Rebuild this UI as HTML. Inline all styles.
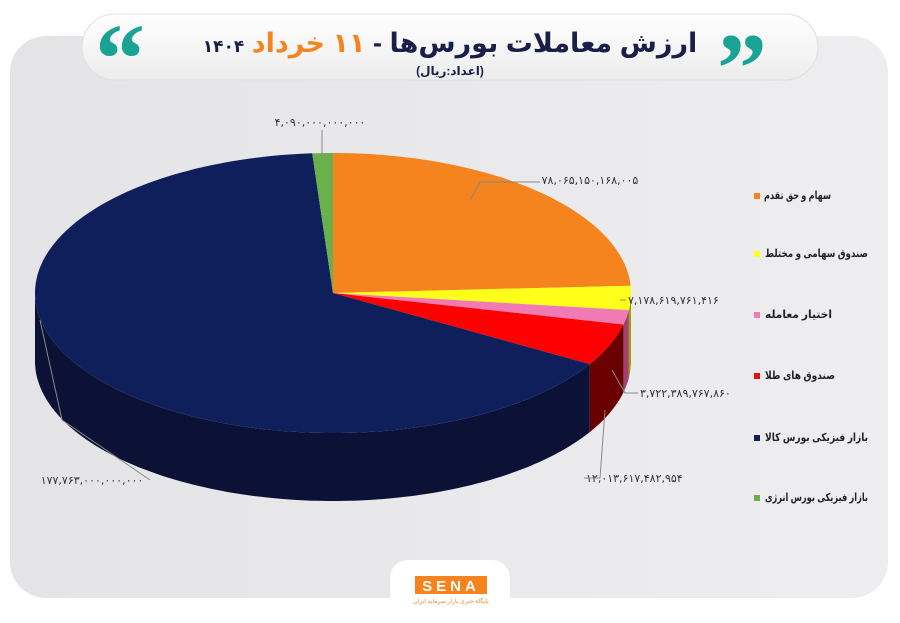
<!DOCTYPE html>
<html><head><meta charset="utf-8"><style>
body{margin:0;width:900px;height:623px;background:#fff;overflow:hidden;font-family:"Liberation Sans","DejaVu Sans",sans-serif}
svg{position:absolute;left:0;top:0}
</style></head><body>
<svg width="900" height="623" viewBox="0 0 900 623" xmlns="http://www.w3.org/2000/svg">
<defs>
<linearGradient id="bg" x1="0" y1="0" x2="1" y2="0"><stop offset="0" stop-color="#e4e4e6"/><stop offset="1" stop-color="#eeeef0"/></linearGradient>
<linearGradient id="pill" x1="0" y1="0" x2="0" y2="1"><stop offset="0" stop-color="#ffffff"/><stop offset="1" stop-color="#ececec"/></linearGradient>
</defs>
<rect x="10" y="36" width="878" height="562" rx="36" fill="url(#bg)"/>
<rect x="82" y="14" width="736" height="66" rx="33" fill="url(#pill)" stroke="#e0e0e0"/>
<text x="120" y="92" font-size="100" font-weight="bold" fill="#1aa394" text-anchor="middle" font-family="Liberation Serif,serif">“</text>
<text x="742" y="102" font-size="100" font-weight="bold" fill="#1aa394" text-anchor="middle" font-family="Liberation Serif,serif">”</text>
<text x="450" y="52" font-size="27" font-weight="bold" text-anchor="middle" direction="rtl" font-family="'Liberation Sans','DejaVu Sans',sans-serif" fill="#1a1f4a">ارزش معاملات بورس‌ها - <tspan fill="#f5841f">۱۱ خرداد</tspan> <tspan font-size="17">۱۴۰۴</tspan></text>
<text x="450" y="75" font-size="12" font-weight="bold" text-anchor="middle" fill="#1a1f4a" direction="rtl">(اعداد:ریال)</text>
<g id="pie"></g>
<g font-size="11" fill="#333" font-family="'DejaVu Sans',sans-serif">
<text x="320" y="126" text-anchor="middle">۴,۰۹۰,۰۰۰,۰۰۰,۰۰۰</text>
<text x="590" y="184" text-anchor="middle">۷۸,۰۶۵,۱۵۰,۱۶۸,۰۰۵</text>
<text x="628" y="304">۷,۱۷۸,۶۱۹,۷۶۱,۴۱۶</text>
<text x="640" y="397">۳,۷۲۲,۳۸۹,۷۶۷,۸۶۰</text>
<text x="586" y="482">۱۲,۰۱۳,۶۱۷,۴۸۲,۹۵۴</text>
<text x="92" y="484" text-anchor="middle">۱۷۷,۷۶۳,۰۰۰,۰۰۰,۰۰۰</text>
</g>
<g stroke="#888" stroke-width="1" fill="none">
<line x1="322" y1="130" x2="322" y2="156"/>
<polyline points="540,182 480,182 470,200"/>
<line x1="626" y1="300" x2="620" y2="300"/>
<polyline points="638,393 625,393 612,370"/>
<polyline points="584,478 600,478 605,410"/>
<polyline points="150,480 62,420 40,320"/>
</g>
<g font-size="11" font-weight="bold" fill="#222" text-anchor="start" lengthAdjust="spacingAndGlyphs">
<text x="764" y="199" textLength="67" lengthAdjust="spacingAndGlyphs">سهام و حق تقدم</text>
<text x="765" y="257" textLength="103" lengthAdjust="spacingAndGlyphs">صندوق سهامی و مختلط</text>
<text x="765" y="318" textLength="67" lengthAdjust="spacingAndGlyphs">اختیار معامله</text>
<text x="765" y="379" textLength="70" lengthAdjust="spacingAndGlyphs">صندوق های طلا</text>
<text x="765" y="441" textLength="103" lengthAdjust="spacingAndGlyphs">بازار فیزیکی بورس کالا</text>
<text x="765" y="501" textLength="103" lengthAdjust="spacingAndGlyphs">بازار فیزیکی بورس انرژی</text>
</g>
<rect x="754" y="193" width="6" height="6" fill="#f5841f"/>
<rect x="754" y="251" width="6" height="6" fill="#ffff1a"/>
<rect x="754" y="312" width="6" height="6" fill="#f07ab4"/>
<rect x="754" y="373" width="6" height="6" fill="#e01010"/>
<rect x="754" y="435" width="6" height="6" fill="#0f1f5c"/>
<rect x="754" y="495" width="6" height="6" fill="#6ab04c"/>
<path d="M390 598 v-20 a18 18 0 0 1 18 -18 h84 a18 18 0 0 1 18 18 v20 z" fill="#fff"/>
<rect x="415" y="576" width="72" height="18" fill="#f5841f"/>
<text x="451" y="591" font-size="15" font-weight="bold" fill="#fff" text-anchor="middle" letter-spacing="4">SENA</text>
<text x="451" y="603" font-size="6" fill="#f5841f" text-anchor="middle" direction="rtl">پایگاه خبری بازار سرمایه ایران</text>
</svg>
<script>
var cx=333,cy=293,rx=298,ry=140,d=68;
function P(t,dy){t=t*Math.PI/180;return [(cx+rx*Math.cos(t)).toFixed(1),(cy+ry*Math.sin(t)+(dy||0)).toFixed(1)];}
var s=[[-90,-3,'#f5841f','#a85510'],[-3,7,'#ffff1a','#a0a000'],[7,13,'#f07ab4','#a0406f'],[13,30.5,'#ff0000','#6a0000'],[30.5,266,'#0f1f5c','#0b1235'],[266,270,'#6ab04c','#3b6a28']];
var g=document.getElementById('pie'),h='';
function arc(a,b,dy){var p='';for(var t=a;t<=b;t+=1)p+=' L'+P(t,dy).join(' ');p+=' L'+P(b,dy).join(' ');return p;}
function arc2(b,a){var p='';for(var t=b;t>=a;t-=1)p+=' L'+P(t,d).join(' ');p+=' L'+P(a,d).join(' ');return p;}
s.forEach(function(x){var a=Math.max(x[0],0),b=Math.min(x[1],180);if(b>a){
var p='M'+P(a).join(' ')+arc(a,b,0)+arc2(b,a);h+='<path d="'+p+'Z" fill="'+x[3]+'"/>';}});
s.forEach(function(x){h+='<path d="M'+cx+' '+cy+' L'+P(x[0]).join(' ')+arc(x[0],x[1],0)+'Z" fill="'+x[2]+'"/>';});
g.innerHTML=h;
</script>
</body></html>
